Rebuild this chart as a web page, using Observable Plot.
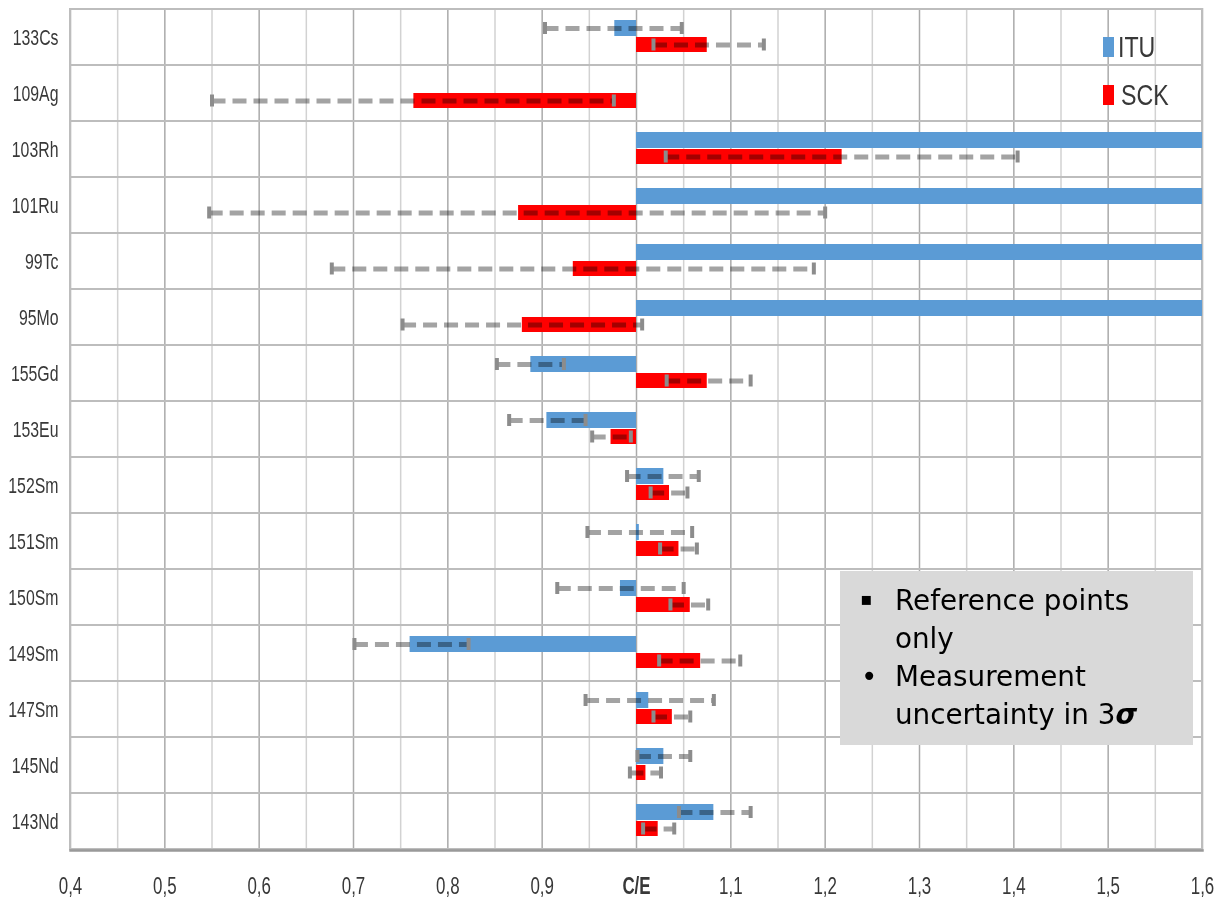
<!DOCTYPE html>
<html>
<head>
<meta charset="utf-8">
<script src="https://cdn.jsdelivr.net/npm/d3@7"></script>
<script src="https://cdn.jsdelivr.net/npm/@observablehq/plot@0.6"></script>
<style>
  html, body { margin: 0; padding: 0; background: #fff; }
  #wrap { position: relative; width: 1215px; height: 900px; overflow: hidden; }
  .leg { position: absolute; font-family: "Liberation Sans", Arial, sans-serif; font-size: 29px; color: #383838; transform: scaleX(0.8); transform-origin: left center; line-height: 1; }
  .sw { position: absolute; width: 11px; height: 20px; }
  #note { position: absolute; left: 840px; top: 571px; width: 353px; height: 174px; background: #d9d9d9;
          font-family: "DejaVu Sans", sans-serif; font-size: 27.8px; color: #000; }
  #note .ln { position: absolute; left: 55px; white-space: nowrap; line-height: 1; }
  #note .bl { position: absolute; white-space: nowrap; line-height: 1; }
</style>
</head>
<body>
<div id="wrap"></div>
<script>
// ---- data ----
const nuclides = ["133Cs","109Ag","103Rh","101Ru","99Tc","95Mo","155Gd","153Eu","152Sm","151Sm","150Sm","149Sm","147Sm","145Nd","143Nd"];
// ITU (blue): C/E value and 3-sigma uncertainty bounds (off-scale values shown at the 1.6 edge)
const ituValue = [0.977, null, 1.6, 1.6, 1.6, 1.6, 0.888, 0.905, 1.029, 1.003, 0.983, 0.760, 1.013, 1.029, 1.082];
const ituLow   = [0.903, null, null, null, null, null, 0.852, 0.865, 0.990, 0.948, 0.916, 0.701, 0.946, 1.001, 1.045];
const ituHigh  = [1.048, null, null, null, null, null, 0.923, 0.946, 1.066, 1.059, 1.050, 0.822, 1.082, 1.057, 1.121];
// SCK (red)
const sckValue = [1.075, 0.764, 1.218, 0.875, 0.933, 0.879, 1.075, 0.973, 1.035, 1.045, 1.057, 1.068, 1.038, 1.010, 1.023];
const sckLow   = [1.018, 0.550, 1.031, 0.547, 0.677, 0.752, 1.032, 0.953, 1.015, 1.025, 1.036, 1.024, 1.018, 0.993, 1.007];
const sckHigh  = [1.135, 0.976, 1.404, 1.200, 1.188, 1.006, 1.121, 0.994, 1.054, 1.064, 1.076, 1.110, 1.057, 1.026, 1.040];
// axis ticks
const majorTicks = [0.4, 0.5, 0.6, 0.7, 0.8, 0.9, 1.0, 1.1, 1.2, 1.3, 1.4, 1.5, 1.6];
const minorTicks = [0.45, 0.55, 0.65, 0.75, 0.85, 0.95, 1.05, 1.15, 1.25, 1.35, 1.45, 1.55];
const tickLabels = ["0,4","0,5","0,6","0,7","0,8","0,9","C/E","1,1","1,2","1,3","1,4","1,5","1,6"];
const seriesNames = ["ITU", "SCK"];
const seriesColors = ["#5b9bd5", "#ff0000"];
const baseline = 1.0;

// ---- tables ----
const itu = nuclides.map((n, i) => ({nuclide: n, value: ituValue[i], low: ituLow[i], high: ituHigh[i]})).filter(d => d.value != null);
const ituErr = itu.filter(d => d.low != null);
const sck = nuclides.map((n, i) => ({nuclide: n, value: sckValue[i], low: sckLow[i], high: sckHigh[i]}));

const errStyle = {stroke: "#a3a3a3", strokeWidth: 5, strokeDasharray: "14,7", mixBlendMode: "multiply"};
const capStyle = {stroke: "#8c8c8c", strokeWidth: 4};

const chart = Plot.plot({
  width: 1215,
  height: 900,
  marginLeft: 70,
  marginRight: 13,
  marginTop: 8,
  marginBottom: 50,
  style: {background: "#fff", color: "#383838", fontFamily: "Liberation Sans, Arial, sans-serif"},
  x: {domain: [0.4, 1.6]},
  y: {type: "band", domain: nuclides, padding: 0},
  marks: [
    Plot.ruleX(minorTicks, {stroke: "#d2d2d2", strokeWidth: 1.5}),
    Plot.ruleX(majorTicks, {stroke: "#aaaaaa", strokeWidth: 1.5}),
    Plot.cell(nuclides, {y: d => d, fill: "none", stroke: "#bdbdbd", strokeWidth: 2}),
    Plot.frame({anchor: "bottom", stroke: "#999999", strokeWidth: 2.5}),
    Plot.barX(itu, {y: "nuclide", x1: baseline, x2: "value", fill: seriesColors[0], insetTop: 11, insetBottom: 29, clip: true}),
    Plot.barX(sck, {y: "nuclide", x1: baseline, x2: "value", fill: seriesColors[1], insetTop: 28, insetBottom: 13, clip: true}),
    Plot.ruleY(ituErr, {y: "nuclide", x1: "low", x2: "high", dy: -9, ...errStyle}),
    Plot.ruleY(sck, {y: "nuclide", x1: "low", x2: "high", dy: 7.5, ...errStyle}),
    Plot.tickX(ituErr, {y: "nuclide", x: "low", insetTop: 13, insetBottom: 31, ...capStyle}),
    Plot.tickX(ituErr, {y: "nuclide", x: "high", insetTop: 13, insetBottom: 31, ...capStyle}),
    Plot.tickX(sck, {y: "nuclide", x: "low", insetTop: 29.5, insetBottom: 14.5, ...capStyle}),
    Plot.tickX(sck, {y: "nuclide", x: "high", insetTop: 29.5, insetBottom: 14.5, ...capStyle}),
    Plot.axisX({ticks: majorTicks, tickFormat: (d, i) => tickLabels[i], tickSize: 0, tickPadding: 27, fontSize: 23.5, label: null}),
    Plot.axisY({tickSize: 0, tickPadding: 12, fontSize: 22, label: null})
  ]
});

const wrap = document.getElementById("wrap");
wrap.appendChild(chart);

// squeeze the axis labels horizontally like the reference, bold the C/E label
chart.querySelectorAll('g[aria-label$="tick label"] text').forEach(t => {
  if (t.textContent === "C/E") t.setAttribute("font-weight", "bold");
  const len = t.getComputedTextLength();
  if (len > 0) {
    t.setAttribute("textLength", (len * 0.72).toFixed(1));
    t.setAttribute("lengthAdjust", "spacingAndGlyphs");
  }
});

// legend
const legendTops = [37, 85];
seriesNames.forEach((name, i) => {
  const sw = document.createElement("div");
  sw.className = "sw";
  sw.style.left = "1103px"; sw.style.top = legendTops[i] + "px"; sw.style.background = seriesColors[i];
  wrap.appendChild(sw);
  const lb = document.createElement("div");
  lb.className = "leg";
  lb.textContent = name;
  lb.style.left = (i === 0 ? 1118 : 1121) + "px"; lb.style.top = (legendTops[i] - 4) + "px";
  wrap.appendChild(lb);
});

// note box
const note = document.createElement("div");
note.id = "note";
note.innerHTML = `
  <div class="bl" style="left:20px;top:19px;font-size:18px">▪</div>
  <div class="ln" style="top:16px">Reference points</div>
  <div class="ln" style="top:54px">only</div>
  <div class="bl" style="left:21px;top:92px">•</div>
  <div class="ln" style="top:92px">Measurement</div>
  <div class="ln" style="top:130px">uncertainty in 3<b><i>σ</i></b></div>`;
wrap.appendChild(note);
</script>
</body>
</html>
